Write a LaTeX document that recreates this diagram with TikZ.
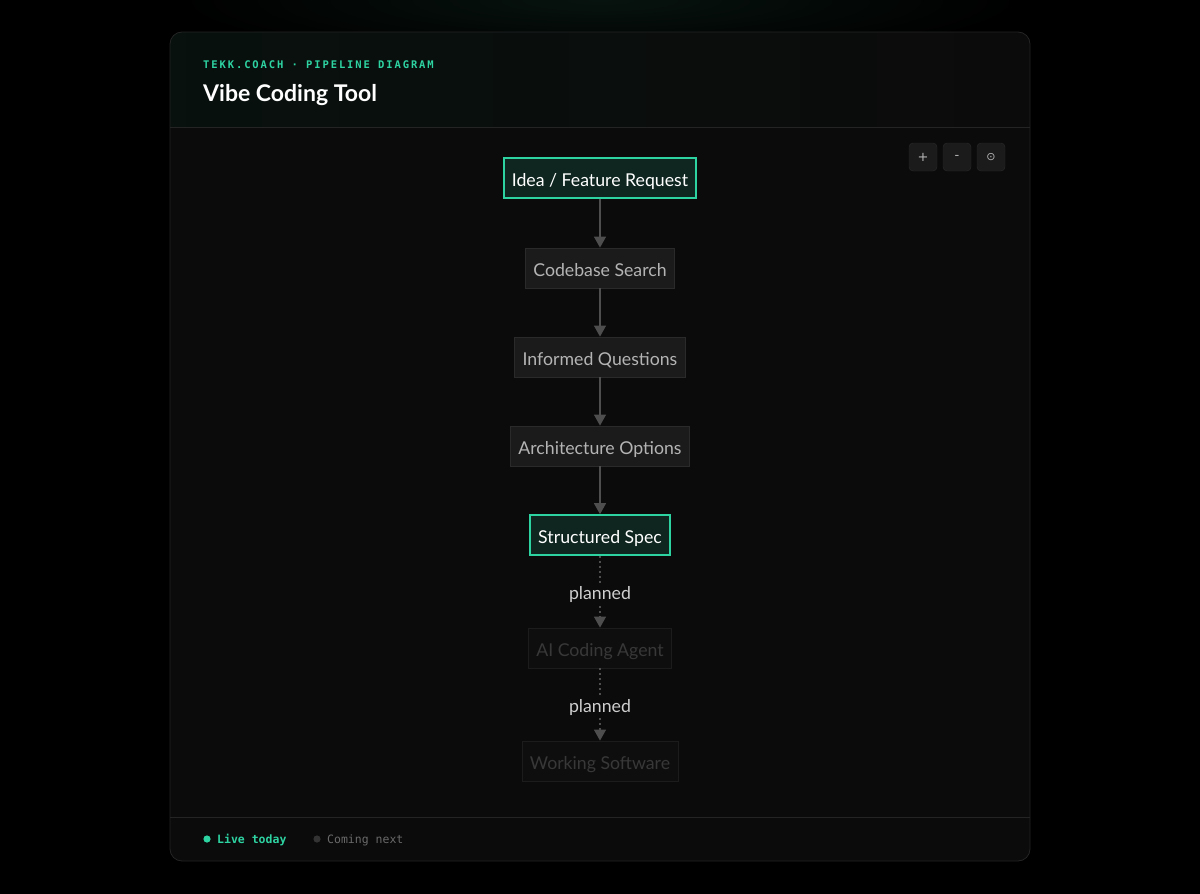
\documentclass[tikz,border=0pt]{standalone}
\usepackage{fontspec}
\setmainfont{Lato}
\newfontfamily\monofont{DejaVu Sans Mono}
\newfontfamily\monowide[LetterSpace=18]{DejaVu Sans Mono}
\newfontfamily\symbfont{DejaVu Sans}
\usetikzlibrary{arrows.meta,positioning}
\definecolor{accent}{HTML}{2ED3A2}
\definecolor{livefill}{HTML}{0F2620}
\definecolor{cardfill}{HTML}{0B0B0B}
\definecolor{cardline}{HTML}{242424}
\definecolor{stagefill}{HTML}{1B1B1B}
\definecolor{stageline}{HTML}{2A2A2A}
\definecolor{stagetext}{HTML}{B4B4B4}
\definecolor{tagtext}{HTML}{CFCFCF}
\definecolor{fadefill}{HTML}{0E0E0E}
\definecolor{fadeline}{HTML}{1C1C1C}
\definecolor{fadetext}{HTML}{383838}
\definecolor{flowline}{HTML}{4E4E4E}
\definecolor{keygrey}{HTML}{333333}
\definecolor{keytext}{HTML}{6A6A6A}
\definecolor{glow}{HTML}{07130F}
\tikzset{
  >={Triangle[width=12pt,length=11pt]},
  box/.style = {minimum height=40pt, inner xsep=8pt, text height=19pt, text depth=2pt,
    font=\fontsize{17.7}{17.7}\selectfont},
  live/.style = {box, draw=accent, line width=1.6pt, fill=livefill, text=white},
  stage/.style = {box, draw=stageline, line width=0.8pt, fill=stagefill, text=stagetext},
  later/.style = {box, draw=fadeline, line width=0.8pt, fill=fadefill, text=fadetext},
  flow/.style = {draw=flowline, line width=1.2pt, ->},
  dotflow/.style = {flow, dash pattern=on 2pt off 3pt},
  tag/.style = {fill=cardfill, text=tagtext, inner sep=2pt, yshift=-3pt,
    font=\fontsize{17.7}{17.7}\selectfont},
  ctrl/.style = {draw=stageline, fill=stagefill, rounded corners=4pt, minimum size=28pt,
    inner sep=0pt, text=stagetext, font=\symbfont\fontsize{13}{13}\selectfont}
}

\begin{document}
\begin{tikzpicture}[x=1pt,y=-1pt]
  \useasboundingbox (0,0) rectangle (1200,894);
  \fill[black] (0,0) rectangle (1200,894);
  \shade[inner color=glow, outer color=black] (600,0) ellipse (420 and 60);
  % card
  \fill[cardfill, rounded corners=12pt] (170,32) rectangle (1030,861);
  \begin{scope}
    \clip[rounded corners=12pt] (170,32) rectangle (1030,861);
    \shade[left color=glow!70!cardfill, right color=cardfill] (170,32) rectangle (1030,127);
  \end{scope}
  \draw[cardline, line width=0.8pt, rounded corners=12pt] (170,32) rectangle (1030,861);
  \draw[cardline, line width=0.8pt] (170,127) -- (1030,127);
  \draw[cardline, line width=0.8pt] (170,817) -- (1030,817);
  % header
  \node[anchor=base west, inner sep=0pt, text=accent, font=\monowide\bfseries\fontsize{10.5}{10.5}\selectfont]
    (kicker) at (203,68) {TEKK.COACH · PIPELINE DIAGRAM};
  \node[anchor=base west, inner sep=0pt, text=white, font=\bfseries\fontsize{23}{23}\selectfont]
    (title) at (203,101) {Vibe Coding Tool};
  % zoom controls
  \node[ctrl] (zoomin) at (923,157) {+};
  \node[ctrl] (zoomout) at (957,157) {-};
  \node[ctrl, font=\symbfont\fontsize{11}{11}\selectfont] (zoomfit) at (991,157) {⊙};
  % pipeline
  \node[live] (idea) at (600,178) {Idea / Feature Request};
  \node[stage] (search) at (600,268) {Codebase Search};
  \node[stage] (questions) at (600,357) {Informed Questions};
  \node[stage] (options) at (600,446) {Architecture Options};
  \node[live] (spec) at (600,535) {Structured Spec};
  \node[later] (agent) at (600,648) {AI Coding Agent};
  \node[later] (software) at (600,761) {Working Software};
  \draw[flow] (idea) -- (search);
  \draw[flow] (search) -- (questions);
  \draw[flow] (questions) -- (options);
  \draw[flow] (options) -- (spec);
  \draw[dotflow] (spec) -- node[tag] {planned} (agent);
  \draw[dotflow] (agent) -- node[tag] {planned} (software);
  % legend
  \fill[accent] (207,839) circle (3.6);
  \node[anchor=base west, inner sep=0pt, text=accent, font=\monofont\bfseries\fontsize{11.5}{11.5}\selectfont]
    (livekey) at (217,843) {Live today};
  \fill[keygrey] (317,839) circle (3.6);
  \node[anchor=base west, inner sep=0pt, text=keytext, font=\monofont\fontsize{11.5}{11.5}\selectfont]
    (nextkey) at (327,843) {Coming next};
\end{tikzpicture}
\end{document}
